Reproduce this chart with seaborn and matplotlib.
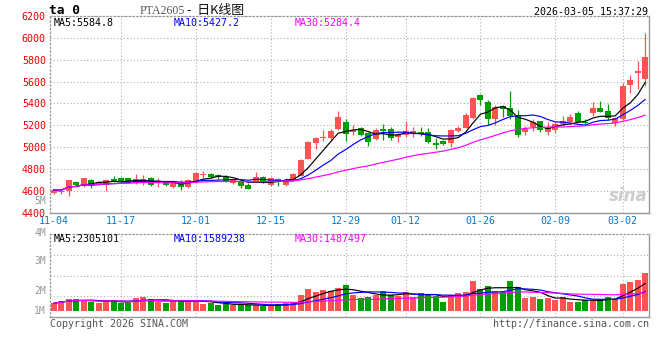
import numpy as np
import pandas as pd
import matplotlib
matplotlib.use('Agg')
import matplotlib.pyplot as plt
import seaborn as sns

# ---- values (PTA2605 daily, 11-04 .. 03-05) ----
date_labels = ['11-04', '11-17', '12-01', '12-15', '12-29', '01-12', '01-26', '02-09', '03-02']
date_index = [0, 9, 19, 29, 39, 47, 57, 67, 76]

open_p = [4578, 4585, 4603, 4680, 4646, 4702, 4665, 4658, 4711, 4714,
          4714, 4671, 4680, 4714, 4677, 4680, 4634, 4680, 4634, 4680,
          4748, 4750, 4747, 4730, 4669, 4684, 4654, 4684, 4729, 4654,
          4708, 4654, 4693, 4738, 4895, 5039, 5080, 5084, 5162, 5232,
          5135, 5171, 5126, 5075, 5162, 5162, 5096, 5111, 5126, 5135,
          5141, 5036, 5057, 5036, 5150, 5177, 5267, 5477, 5411, 5255,
          5377, 5362, 5296, 5143, 5182, 5236, 5143, 5161, 5212, 5227,
          5311, 5233, 5311, 5362, 5329, 5221, 5257, 5573, 5678, 5627]
high_p = [4615, 4618, 4698, 4689, 4720, 4708, 4689, 4708, 4738, 4726,
          4720, 4757, 4748, 4726, 4714, 4686, 4689, 4702, 4711, 4775,
          4780, 4762, 4750, 4744, 4712, 4696, 4669, 4768, 4738, 4726,
          4717, 4714, 4760, 4890, 5052, 5093, 5156, 5165, 5328, 5256,
          5201, 5186, 5135, 5171, 5210, 5186, 5141, 5237, 5186, 5186,
          5171, 5081, 5066, 5165, 5195, 5315, 5456, 5486, 5432, 5381,
          5386, 5513, 5341, 5197, 5257, 5242, 5233, 5233, 5287, 5302,
          5332, 5257, 5413, 5423, 5392, 5272, 5588, 5663, 5790, 6048]
low_p = [4572, 4570, 4551, 4634, 4634, 4628, 4658, 4603, 4680, 4674,
         4671, 4665, 4658, 4640, 4634, 4645, 4628, 4610, 4628, 4671,
         4720, 4714, 4708, 4684, 4662, 4630, 4615, 4678, 4669, 4648,
         4648, 4648, 4690, 4735, 4890, 4985, 5060, 5069, 5156, 5060,
         5111, 5105, 5012, 5066, 5063, 5066, 5051, 5096, 5096, 5105,
         5036, 4985, 5021, 4997, 5135, 5171, 5255, 5381, 5201, 5201,
         5272, 5257, 5092, 5113, 5152, 5137, 5113, 5131, 5191, 5212,
         5227, 5212, 5287, 5317, 5251, 5197, 5251, 5492, 5528, 5564]
close_p = [4609, 4603, 4695, 4655, 4714, 4646, 4680, 4702, 4692, 4689,
           4683, 4711, 4708, 4658, 4683, 4652, 4680, 4634, 4702, 4766,
           4752, 4726, 4726, 4690, 4708, 4648, 4618, 4729, 4678, 4714,
           4690, 4690, 4750, 4886, 5045, 5084, 5087, 5147, 5274, 5123,
           5156, 5111, 5051, 5156, 5147, 5087, 5117, 5147, 5147, 5117,
           5051, 5021, 5033, 5156, 5171, 5297, 5450, 5432, 5255, 5366,
           5353, 5281, 5107, 5167, 5233, 5161, 5173, 5212, 5242, 5272,
           5233, 5221, 5362, 5323, 5266, 5263, 5564, 5612, 5699, 5829]
# volume in millions, on the scale of the panel's own axis labels
vol_m = [1.59, 1.67, 1.73, 1.73, 1.71, 1.64, 1.60, 1.67, 1.70, 1.59,
         1.59, 1.77, 1.80, 1.73, 1.62, 1.60, 1.67, 1.70, 1.67, 1.67,
         1.57, 1.59, 1.54, 1.56, 1.52, 1.56, 1.52, 1.52, 1.50, 1.50,
         1.58, 1.59, 1.64, 1.87, 2.07, 1.97, 2.03, 2.01, 2.10, 2.20,
         1.87, 1.78, 1.80, 1.87, 2.00, 1.87, 1.84, 1.97, 1.81, 1.93,
         1.87, 1.83, 1.63, 1.87, 1.93, 1.97, 2.33, 2.07, 2.17, 2.00,
         1.97, 2.33, 2.13, 1.78, 1.81, 1.73, 1.78, 1.71, 1.80, 1.63,
         1.63, 1.70, 1.71, 1.73, 1.80, 1.73, 2.23, 2.31, 2.37, 2.61]

price_header = ['MA5:5584.8', 'MA10:5427.2', 'MA30:5284.4']
vol_header = ['MA5:2305101', 'MA10:1589238', 'MA30:1487497']
vol_labels = ['5M', '4M', '3M', '2M', '1M']
vol_label_vals = [5.0, 3.95, 3.0, 2.0, 1.343]

RED = '#ff5252'
GREEN = '#009f00'
MA_COLORS = ['black', '#0000ff', '#ff00ff']
GRID = '#b0b0b0'
DOT = (0, (1, 2))

sns.set_style('white')
plt.rcParams['font.family'] = ['DejaVu Sans Mono', 'Noto Sans CJK SC']

df = pd.DataFrame({'open': open_p, 'high': high_p, 'low': low_p,
                   'close': close_p, 'vol': vol_m})
df['x'] = np.arange(len(df))
for n in (5, 10, 30):
    df[f'ma{n}'] = df['close'].rolling(n, min_periods=1).mean()
    df[f'vma{n}'] = df['vol'].rolling(n, min_periods=1).mean()
colors = np.where(df['close'] >= df['open'], RED, GREEN)

W, H = 660, 360
fig = plt.figure(figsize=(W / 100, H / 100), dpi=100)


def box(l, t, r, b):
    return [l / W, 1 - b / H, (r - l) / W, (b - t) / H]


ax = fig.add_axes(box(50, 16, 649, 212.7))
axv = fig.add_axes(box(50, 234, 649, 317))

# ---- candles ----
body_lo = df[['open', 'close']].min(axis=1)
body_h = (df['close'] - df['open']).abs().clip(lower=9)
ax.vlines(df['x'], df['low'], df['high'], colors=colors, lw=0.9, zorder=2)
ax.bar(df['x'], body_h, bottom=body_lo, width=0.8, color=colors,
       linewidth=0, zorder=2)
for n, c in zip((5, 10, 30), MA_COLORS):
    sns.lineplot(data=df, x='x', y=f'ma{n}', ax=ax, color=c, lw=0.85, zorder=3)

ax.set_xlim(-0.48, 79.5)
ax.set_ylim(4400, 6200)
ax.set_yticks(range(4400, 6201, 200))
ax.set_xticks(date_index)
ax.set_xticklabels(date_labels)
ax.tick_params(axis='y', length=0, pad=3, labelsize=7.2, labelcolor='#ee0000')
ax.tick_params(axis='x', length=0, pad=2.6, labelsize=7.2, labelcolor='#0a78c8')
ax.grid(True, color=GRID, ls=DOT, lw=0.8)
ax.xaxis.get_gridlines()[0].set_visible(False)
ax.set_xlabel('')
ax.set_ylabel('')

# ---- volume ----
vol_lo, vol_hi, vol_base = 1.133, 3.9, 1.343
axv.bar(df['x'], df['vol'] - vol_base, bottom=vol_base, width=0.8,
        color=colors, linewidth=0, zorder=2)
for n, c in zip((5, 10, 30), MA_COLORS):
    sns.lineplot(data=df, x='x', y=f'vma{n}', ax=axv, color=c, lw=0.85, zorder=3)
axv.set_xlim(-0.48, 79.5)
axv.set_ylim(vol_lo, vol_hi)
axv.set_xticks(date_index[1:])
axv.set_yticks([])
axv.set_yticks(np.linspace(vol_lo, vol_hi, 5)[1:-1], minor=True)
axv.tick_params(which='both', length=0, labelbottom=False, labelleft=False)
axv.grid(True, which='major', axis='x', color=GRID, ls=DOT, lw=0.8)
axv.grid(True, which='minor', axis='y', color=GRID, ls=DOT, lw=0.8)
axv.set_xlabel('')
axv.set_ylabel('')
for v, lab in zip(vol_label_vals, vol_labels):
    axv.text(-0.0067, v, lab, transform=axv.get_yaxis_transform(),
             ha='right', va='center', fontsize=7, color='#999999',
             clip_on=False)

for a in (ax, axv):
    for s in ('top', 'left'):
        a.spines[s].set_linestyle(DOT)
        a.spines[s].set_color('#999999')
        a.spines[s].set_linewidth(0.9)
    for s in ('right', 'bottom'):
        a.spines[s].set_color('#999999')
        a.spines[s].set_linewidth(1.0)

# ---- header / footer text ----
def ftext(x, y, s, **kw):
    fig.text(x / W, 1 - y / H, s, va='center', **kw)


for x0, s, c in zip((54, 174, 295), price_header, MA_COLORS):
    ftext(x0, 23.5, s, fontsize=7.2, color=c)
for x0, s, c in zip((54, 174, 295), vol_header, MA_COLORS):
    ftext(x0, 238.5, s, fontsize=7.2, color=c)

ftext(49, 11, 'ta 0', fontsize=9.3, fontweight='bold', color='black')
ftext(140, 10.5, 'PTA2605', fontsize=8.6, color='#555555',
      family=['Liberation Serif', 'DejaVu Serif'])
ftext(187, 10.5, '-  日K线图', fontsize=9.3, color='#111111',
      family=['Noto Sans CJK SC', 'DejaVu Sans'])
ftext(648.5, 11.7, '2026-03-05 15:37:29', fontsize=7.2, color='black', ha='right')
ftext(50, 323.7, 'Copyright 2026 SINA.COM', fontsize=7.2, color='#555555')
ftext(649, 323.7, 'http://finance.sina.com.cn', fontsize=7.2, color='#555555',
      ha='right')
ftext(648, 196, 'sina', fontsize=12, color='#cccccc', ha='right',
      fontweight='bold', fontstyle='italic', family=['DejaVu Sans'])

fig.savefig('out.png', dpi=100)
